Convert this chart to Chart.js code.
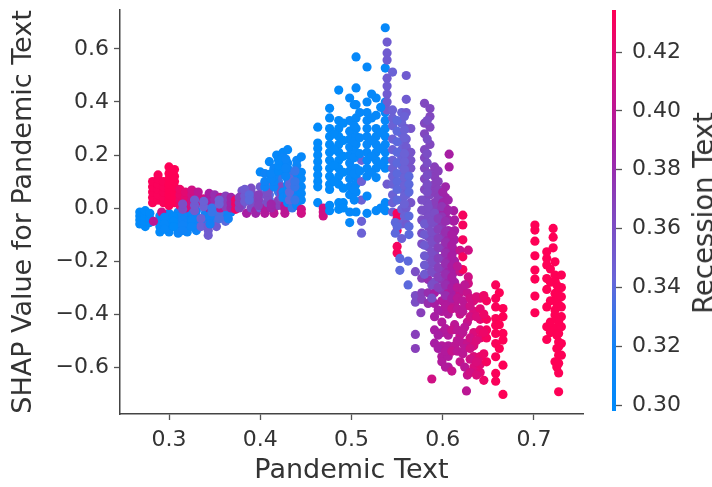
<!DOCTYPE html>
<html lang="en">
<head>
<meta charset="UTF-8">
<title>SHAP dependence plot</title>
<script src="https://cdn.jsdelivr.net/npm/chart.js"></script>
<style>
    html, body { margin: 0; padding: 0; background: #fff; }
    #wrap { position: relative; width: 712px; height: 487px; overflow: hidden; filter: blur(0.6px); }
    canvas { position: absolute; left: 0; top: 0; }
    #cbTitle {
        position: absolute; left: 703px; top: 213px; white-space: nowrap;
        font: 27.5px "DejaVu Sans"; color: #333;
        transform: translate(-50%, -50%) rotate(-90deg);
    }
</style>
</head>
<body>
<div id="wrap">
    <canvas id="scatter" width="712" height="487"></canvas>
    <canvas id="colorbar" width="712" height="487"></canvas>
    <div id="cbTitle">Recession Text</div>
</div>
<script>
// each row is one vertical strand of dots: same Pandemic Text, same Recession Text
const strandX = [
    0.268,0.274,0.279,0.29,0.30,0.31,0.32,0.33,0.34,0.35,0.36,0.368,0.335,0.343,0.352,0.362,0.283,0.292,
    0.295,0.305,0.315,0.325,0.345,0.355,0.365,
    0.282,0.288,0.294,0.30,0.306,0.312,0.318,0.325,0.332,0.338,0.344,0.35,0.356,0.362,0.368,0.373,
    0.315,0.328,0.338,0.347,0.355,
    0.38,0.385,0.39,0.395,0.40,0.405,0.41,0.415,0.42,0.42,0.427,
    0.377,0.383,0.388,0.398,0.408,0.412,0.423,
    0.40,0.41,0.418,0.425,0.43,0.405,0.415,0.425,0.43,0.435,0.44,0.445,0.445,
    0.432,0.438,0.412,0.42,0.428,
    0.463,0.469,0.476,0.486,0.498,0.505,0.511,0.517,0.527,0.537,0.539,
    0.481,0.491,0.503,0.509,0.522,0.532,
    0.545,0.55,0.548,0.555,0.56,0.565,
    0.55,0.558,0.563,
    0.58,0.586,0.591,0.607,0.603,
    0.583,0.595,0.60,0.612,
    0.553,0.562,0.57,0.577,0.576,0.57,
    0.577,0.584,0.584,0.591,0.591,0.599,0.599,0.606,0.606,0.613,0.613,0.619,0.622,0.628,
    0.58,0.588,0.595,0.595,0.603,0.603,0.61,0.61,0.616,0.622,0.627,0.634,0.641,0.648,
    0.624,0.63,0.637,0.645,0.626,0.588,
    0.658,0.666,0.662,0.701,0.714,0.721,0.723,0.727,0.73,0.718,0.725
];
const strandC = [
    0.30,0.30,0.30,0.30,0.305,0.31,0.31,0.315,0.32,0.33,0.315,0.305,0.345,0.35,0.35,0.34,0.40,0.41,
    0.305,0.30,0.315,0.31,0.32,0.335,0.32,
    0.432,0.432,0.432,0.434,0.434,0.425,0.42,0.41,0.40,0.41,0.39,0.38,0.40,0.37,0.385,0.425,
    0.36,0.35,0.345,0.33,0.345,
    0.355,0.39,0.36,0.385,0.35,0.395,0.34,0.40,0.33,0.37,0.40,
    0.37,0.35,0.34,0.37,0.36,0.385,0.36,
    0.305,0.305,0.305,0.305,0.305,0.315,0.31,0.31,0.31,0.33,0.31,0.305,0.41,
    0.34,0.33,0.31,0.305,0.31,
    0.30,0.41,0.30,0.30,0.305,0.305,0.345,0.305,0.305,0.305,0.35,
    0.30,0.30,0.305,0.305,0.305,0.305,
    0.345,0.43,0.34,0.345,0.35,0.355,
    0.34,0.345,0.34,
    0.365,0.365,0.37,0.39,0.385,
    0.36,0.37,0.385,0.39,
    0.34,0.34,0.36,0.37,0.37,0.37,
    0.36,0.36,0.38,0.36,0.39,0.375,0.395,0.385,0.395,0.39,0.40,0.405,0.43,0.41,
    0.35,0.36,0.37,0.39,0.38,0.395,0.39,0.405,0.40,0.40,0.405,0.415,0.42,0.43,
    0.40,0.41,0.415,0.425,0.40,0.41,
    0.432,0.434,0.434,0.434,0.434,0.434,0.434,0.434,0.434,0.434,0.434
];
const strandY = [
    [-0.06,-0.045,-0.03,-0.015],[-0.07,-0.05,-0.035,-0.02,-0.01],[-0.055,-0.04,-0.02],
    [-0.03,-0.05,-0.07,-0.09],[-0.02,-0.04,-0.06,-0.09],[-0.015,-0.035,-0.055,-0.08,-0.095],
    [-0.01,-0.03,-0.05,-0.07,-0.09],[-0.01,-0.03,-0.06,-0.085],[-0.005,-0.02,-0.05],
    [-0.01,-0.03,-0.05],[-0.01,-0.03],[-0.015],[-0.04,-0.07],[-0.065,-0.085,-0.103],[-0.07],[-0.05],
    [-0.05],[-0.015],
    [-0.035,-0.06,-0.08],[-0.03,-0.05,-0.07],[-0.025,-0.045,-0.065,-0.085],[-0.02,-0.045,-0.07],
    [-0.035,-0.06],[-0.02,-0.04],[-0.02,-0.04],
    [0.02,0.04,0.06,0.08,0.10],[0.03,0.05,0.07,0.09,0.11,0.125],[0.02,0.04,0.06,0.08,0.10],
    [0.01,0.03,0.05,0.07,0.09,0.11,0.13,0.155],[0.02,0.04,0.06,0.08,0.10,0.12,0.145],
    [0.01,0.03,0.05,0.07],[0.0,0.02,0.04,0.06],[0.01,0.03,0.05,0.068],[0.02,0.04,0.06],[0.01,0.035],
    [0.0,0.02,0.04,0.055],[0.01,0.03,0.05],[0.0,0.02,0.04],[0.005,0.025,0.045],[0.0,0.02,0.04],
    [-0.005,0.015,0.03],
    [-0.005,0.015],[-0.01,0.01,0.03],[0.005,0.025],[0.0,-0.015],[0.03,0.015],
    [0.01,0.03,0.05,0.065],[-0.02],[0.0,0.02,0.04,0.06,0.075],[-0.02,-0.01],[0.0,0.02,0.05,0.08],
    [-0.02,0.0],[0.03,0.05,0.07,0.09],[0.0,-0.02],[0.06,0.08,0.10,0.12],[0.01,0.03],[-0.02,-0.005,0.01],
    [0.0,0.02,0.04],[0.045,0.025,0.07],[0.05,0.03],[0.03,0.05,0.01],[0.02,0.04,0.06],[0.0,0.015],[0.04,0.06,0.08],
    [0.136],[0.175],[0.2],[0.21,0.17,0.14],[0.22],[0.08,0.10,0.13],[0.08,0.10,0.12,0.15],
    [0.19,0.06,0.04],[0.02,0.05,0.07,0.09,0.11,0.13,0.15,0.17],[0.0,0.03,0.06,0.09,0.12],
    [0.01,0.04,0.07,0.10,0.13,0.16,0.18],[0.193,0.135,0.11,0.08,0.055,0.03],[-0.005,-0.02],
    [0.03,0.06,0.09,0.11],[0.03,0.08,0.10,0.14],[0.11,0.13],[0.14,0.16,0.18],[0.12,0.15,0.185],
    [0.305,0.245,0.225,0.2,0.175,0.15,0.125,0.10,0.08,0.02],[0.0,-0.015,-0.03],
    [0.376,0.34,0.30,0.27,0.24,0.21,0.18,0.15,0.12,0.09,0.07,0.01,-0.01],
    [0.445,0.33,0.30,0.27,0.24,0.21,0.18,0.15,0.12,0.09,0.02,-0.005],
    [0.415,0.33,0.29,0.26,0.23,0.20,0.17,0.14,0.11,0.08,0.05,-0.015,-0.055],
    [0.57,0.453,0.39,0.34,0.30,0.27,0.24,0.21,0.15,0.12,0.09,0.06,-0.015],
    [0.18,0.10,0.03,-0.05,-0.095],
    [0.532,0.40,0.36,0.33,0.30,0.27,0.24,0.21,0.18,0.15,0.12,0.045,-0.02],
    [0.415,0.35,0.30,0.27,0.24,0.21,0.18,0.15,0.115,-0.01],
    [0.68,0.528,0.40,0.36,0.33,0.30,0.27,0.24,0.21,0.18,0.15,0.02,-0.01],
    [0.626,0.585,0.558,0.49,0.46,0.43,0.40,0.37,0.09],
    [0.28,0.22,0.16,0.10],
    [0.32,0.255,0.195,0.135,0.075,0.02,0.0],
    [0.39,0.31,0.25,0.19,0.13,0.07,0.03],
    [0.36,0.265,0.205,0.14],
    [0.43,0.34,0.255,0.195,0.135],
    [0.38,0.285,0.225,0.165,0.0],
    [0.513,0.37,0.34,0.31,0.26,0.22,0.18,0.15,0.12,0.09,0.05,0.02,-0.015],
    [-0.02,-0.04,-0.085,-0.145,-0.17],[-0.055,-0.095],
    [0.36,0.32,0.28,0.25,0.22,0.19,0.16,0.13,0.10,0.07,0.03,-0.005,-0.06,-0.115],
    [0.50,0.41,0.36,0.30,0.26,0.23,0.20,0.17,0.14,0.11,0.08,0.05,0.0,-0.06],
    [0.30,0.21,0.18,0.15,0.02],
    [0.33,0.29,0.25,0.21,0.17,0.13,0.10,0.07,0.03,-0.07],
    [0.345,0.295,0.265,0.205,0.175,0.145,0.115,0.085,0.045,0.015,-0.03],
    [0.12,0.09,0.06,-0.03,-0.07,-0.10],
    [0.395,0.32,0.28,0.22,0.19,0.15,0.11,0.07,0.03,-0.01],[0.375,0.345,0.305,0.24,0.13,0.08,0.05,0.0,-0.035],
    [0.155,0.12,0.09,0.06,0.02],[0.203,0.155],[0.08,0.04,0.0,-0.02],
    [0.33,0.26,0.205,0.17,0.125,0.09,0.06,0.02,-0.015],[0.14,0.10,0.07,0.04,0.0,-0.03],
    [0.06,0.02,-0.02,-0.05],[-0.01,-0.05,-0.09],
    [-0.19,-0.235],[-0.2,-0.29],[-0.24,-0.33,-0.355],[-0.265,-0.32,-0.345],[-0.395],[-0.477,-0.53],
    [0.03,-0.008,-0.045,-0.095,-0.135],[0.005,-0.033,-0.07,-0.108,-0.146,-0.184,-0.22],[-0.27,-0.32,-0.36],
    [-0.02,-0.058,-0.095,-0.133,-0.17,-0.208,-0.245,-0.28],[-0.32,-0.36,-0.41,-0.46,-0.51],
    [0.005,-0.033,-0.07,-0.11,-0.15,-0.19,-0.23,-0.27,-0.31],[-0.35,-0.39,-0.43,-0.47,-0.52,-0.56,-0.58],
    [0.03,-0.008,-0.045,-0.085,-0.12,-0.16,-0.20,-0.24,-0.28],[-0.32,-0.36,-0.40,-0.48,-0.52,-0.56,-0.60],
    [-0.045,-0.085,-0.12,-0.16,-0.20,-0.24,-0.28,-0.32],[-0.36,-0.44,-0.52],
    [-0.16,-0.24,-0.32,-0.40,-0.48,-0.58],
    [-0.027,-0.064,-0.12,-0.184,-0.232],[-0.159,-0.26,-0.285],
    [-0.06,-0.10,-0.14,-0.18,-0.215,-0.25],[-0.05,-0.09,-0.125,-0.165,-0.20,-0.24,-0.29,-0.34],
    [-0.04,-0.08,-0.115,-0.15,-0.19,-0.225,-0.26,-0.30],[-0.385,-0.48,-0.53],
    [-0.05,-0.09,-0.13,-0.17,-0.21,-0.25,-0.29,-0.33],[-0.37,-0.455,-0.54,-0.60],
    [-0.10,-0.14,-0.18,-0.22,-0.26,-0.30,-0.34],[-0.38,-0.46,-0.54,-0.615],
    [-0.22,-0.30,-0.34,-0.38,-0.46,-0.50,-0.54],[-0.31,-0.35,-0.39,-0.47,-0.51,-0.55],
    [-0.32,-0.43,-0.51,-0.63],[-0.35,-0.39,-0.47,-0.52,-0.56,-0.60],
    [-0.34,-0.38,-0.42,-0.46,-0.49,-0.56,-0.59,-0.62],[-0.35,-0.42,-0.46,-0.49,-0.58],
    [-0.29,-0.37,-0.45,-0.53,-0.60],
    [-0.34,-0.37,-0.41,-0.49,-0.53,-0.57,-0.62],[-0.335,-0.41,-0.50,-0.58,-0.63],
    [-0.33,-0.40,-0.47,-0.55,-0.65],[-0.69],[-0.645],
    [-0.29,-0.341,-0.373,-0.417,-0.442,-0.473,-0.511,-0.561,-0.624,-0.653],[-0.379,-0.41,-0.473,-0.498,-0.593,-0.703],
    [-0.32,-0.44,-0.53],
    [-0.064,-0.083,-0.125,-0.18,-0.234,-0.268,-0.332,-0.395],
    [-0.165,-0.19,-0.215,-0.266,-0.307,-0.373,-0.448,-0.496],[-0.077,-0.11,-0.15],
    [-0.203,-0.253,-0.272,-0.322,-0.347,-0.385,-0.404,-0.454,-0.58],
    [-0.30,-0.33,-0.365,-0.43,-0.473,-0.505,-0.523,-0.555,-0.586,-0.622,-0.693],
    [-0.253,-0.30,-0.335,-0.373,-0.41,-0.448,-0.511,-0.555],
    [-0.23,-0.28,-0.35,-0.43,-0.47],[-0.29,-0.36,-0.42,-0.48,-0.53,-0.60]
];

const xTicks = [0.3, 0.4, 0.5, 0.6, 0.7];
const yTicks = [-0.6, -0.4, -0.2, 0.0, 0.2, 0.4, 0.6];
const colorTicks = [0.30, 0.32, 0.34, 0.36, 0.38, 0.40, 0.42];
const colorMin = 0.298, colorMax = 0.4343;
// sampled from the colour bar, bottom to top
const colorStops = [[0,139,251],[20,130,245],[105,100,215],[130,70,190],[165,30,165],[210,15,130],[255,0,85]];

if (strandX.length !== strandY.length || strandC.length !== strandY.length) {
    throw new Error('strand rows differ: ' + strandX.length + ' ' + strandC.length + ' ' + strandY.length);
}

function colorFor(v) {
    const t = Math.min(1, Math.max(0, (v - colorMin) / (colorMax - colorMin))) * (colorStops.length - 1);
    const i = Math.min(colorStops.length - 2, Math.floor(t));
    const f = t - i;
    const rgb = colorStops[i].map((c, k) => Math.round(c + (colorStops[i + 1][k] - c) * f));
    return 'rgb(' + rgb.join(',') + ')';
}

const points = [], pointColors = [];
strandX.forEach((x, i) => {
    strandY[i].forEach(y => {
        points.push({ x: x, y: y });
        pointColors.push(colorFor(strandC[i]));
    });
});

const fontTick = { family: 'DejaVu Sans', size: 22 };
const fontTitle = { family: 'DejaVu Sans', size: 27 };
const axisColor = '#333333';
const minus = s => s.replace('-', '\u2212');

new Chart(document.getElementById('scatter'), {
    type: 'scatter',
    data: {
        datasets: [{
            data: points,
            backgroundColor: pointColors,
            borderWidth: 0,
            pointRadius: 4.6
        }]
    },
    options: {
        responsive: false,
        animation: false,
        layout: { padding: { left: 0, right: 129, top: 10, bottom: 0 } },
        plugins: { legend: { display: false }, tooltip: { enabled: false } },
        scales: {
            x: {
                min: 0.2463, max: 0.7537,
                afterBuildTicks: s => { s.ticks = xTicks.map(v => ({ value: v })); },
                afterFit: s => { s.height = 73; s.paddingLeft = 0; s.paddingRight = 0; },
                grid: { drawOnChartArea: false, tickLength: 6, tickColor: '#555', tickWidth: 1.3 },
                border: { color: '#444', width: 1.5 },
                ticks: { color: axisColor, font: fontTick, padding: 7, maxRotation: 0, callback: v => v.toFixed(1) },
                title: { display: true, text: 'Pandemic Text', color: axisColor, font: fontTitle, padding: { top: 0, bottom: 0 } }
            },
            y: {
                min: -0.777, max: 0.747,
                afterBuildTicks: s => { s.ticks = yTicks.map(v => ({ value: v })); },
                afterFit: s => { s.width = 120; s.paddingTop = 0; s.paddingBottom = 0; },
                grid: { drawOnChartArea: false, tickLength: 6, tickColor: '#555', tickWidth: 1.3 },
                border: { color: '#444', width: 1.5 },
                ticks: { color: axisColor, font: fontTick, padding: 5, callback: v => minus(v.toFixed(1)) },
                title: { display: true, text: 'SHAP Value for Pandemic Text', color: axisColor, font: fontTitle, padding: { top: 8, bottom: 0 } }
            }
        }
    }
});

new Chart(document.getElementById('colorbar'), {
    type: 'bar',
    data: {
        labels: [''],
        datasets: [{
            data: [[colorMin, colorMax]],
            barPercentage: 1,
            categoryPercentage: 1,
            backgroundColor: ctx => {
                const a = ctx.chart.chartArea;
                if (!a) return colorFor(colorMin);
                const g = ctx.chart.ctx.createLinearGradient(0, a.bottom, 0, a.top);
                colorStops.forEach((c, i) => g.addColorStop(i / (colorStops.length - 1), 'rgb(' + c.join(',') + ')'));
                return g;
            }
        }]
    },
    options: {
        responsive: false,
        animation: false,
        layout: { padding: { left: 612, right: 0, top: 10, bottom: 76 } },
        plugins: { legend: { display: false }, tooltip: { enabled: false } },
        scales: {
            x: { display: false },
            y: {
                position: 'right',
                min: colorMin, max: colorMax,
                afterBuildTicks: s => { s.ticks = colorTicks.map(v => ({ value: v })); },
                afterFit: s => { s.width = 96; s.paddingTop = 0; s.paddingBottom = 0; },
                grid: { drawOnChartArea: false, tickLength: 6, tickColor: '#555', tickWidth: 1.3 },
                border: { display: false },
                ticks: { color: axisColor, font: fontTick, padding: 10, callback: v => v.toFixed(2) }
            }
        }
    }
});
</script>
</body>
</html>
